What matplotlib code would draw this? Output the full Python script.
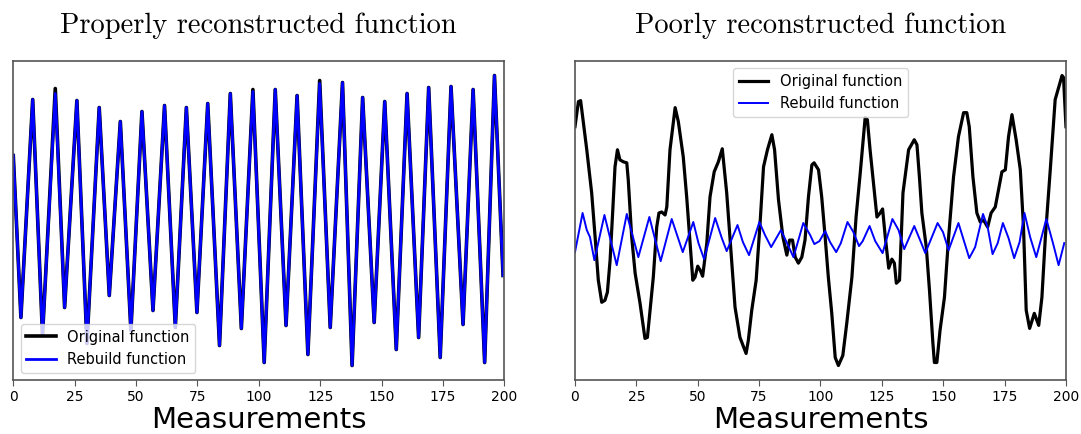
import matplotlib.pyplot as plt

# left panel: turning points of the signal (original and rebuilt almost identical)
good_x = [0, 3.1, 7.9, 11.9, 17.1, 20.9, 25.9, 30.0, 35.0, 39.1, 43.6, 47.9, 52.4, 56.9,
          61.6, 66.0, 70.5, 74.8, 79.2, 84.0, 88.4, 92.9, 97.6, 102.2, 106.7, 111.1,
          115.6, 120.0, 124.8, 129.1, 134.1, 138.0, 142.3, 147.0, 151.3, 156.0, 160.4,
          165.1, 169.2, 173.9, 178.3, 183.2, 187.3, 192.0, 196.0, 199.5]
good_orig = [225, 63, 281, 45, 292, 73, 280, 37, 273, 85, 259, 50, 269, 70,
             275, 53, 273, 68, 277, 35, 287, 52, 291, 18, 291, 55,
             285, 26, 300, 53, 298, 15, 283, 58, 279, 31, 287,
             43, 293, 23, 294, 56, 291, 18, 305, 105]
good_rebuild = [225, 63, 281, 45, 287, 73, 280, 37, 273, 85, 259, 50, 269, 70,
                275, 53, 273, 68, 277, 35, 287, 52, 289, 18, 291, 55,
                285, 26, 297, 53, 298, 15, 283, 58, 279, 31, 287,
                43, 293, 23, 294, 56, 291, 18, 305, 105]

# right panel: original function
bad_x = [0, 1.4, 2.3, 4.8, 6.8, 8.2, 9.5, 10.9, 12.2, 13.2, 14.3, 15.4, 16.3, 17.3, 18.3,
         19.7, 21.1, 21.7, 23.1, 24.5, 26.5, 28.5, 29.5, 30.6, 31.9, 33.3, 34.2, 35.3,
         36.7, 37.4, 38.7, 40.8, 42.1, 44.1, 45.5, 46.9, 48.0, 48.9, 50.0, 51.0, 52.0,
         53.7, 55.0, 56.7, 58.4, 60.0, 61.8, 63.9, 65.2, 67.2, 69.7, 70.6, 72.0, 73.8,
         75.4, 76.8, 78.4, 80.2, 81.3, 82.9, 84.7, 86.3, 87.4, 88.6, 89.7, 91.0, 92.4,
         93.7, 95.1, 96.5, 97.4, 99.2, 100.5, 101.9, 103.2, 104.6, 106.0, 107.3, 109.1,
         110.7, 112.8, 114.5, 116.2, 117.5, 118.2, 119.1, 120.2, 121.6, 123.0, 124.3,
         125.3, 126.4, 127.8, 129.1, 130.1, 130.9, 132.2, 133.6, 135.9, 138.2, 139.3,
         140.3, 141.3, 143.1, 144.4, 145.8, 146.4, 147.4, 148.7, 150.5, 152.1, 154.2,
         156.2, 158.3, 159.6, 160.6, 162.1, 163.7, 165.1, 166.4, 168.1, 169.5, 171.2,
         172.5, 173.9, 175.3, 176.6, 178.0, 179.7, 181.4, 182.7, 183.8, 185.2, 187.1,
         188.9, 190.2, 191.6, 193.6, 195.6, 198.4, 199.0, 200.0]
bad_orig = [253, 278, 279, 230, 187, 143, 100, 78, 80, 88, 120, 170, 213, 230, 220,
            218, 217, 200, 143, 107, 77, 42, 43, 70, 103, 153, 167, 168,
            165, 173, 230, 272, 258, 223, 183, 137, 100, 103, 114, 110, 104,
            137, 183, 208, 218, 231, 187, 117, 73, 43, 27, 40, 70, 100,
            157, 213, 230, 245, 230, 180, 143, 125, 140, 140, 123, 117, 123,
            140, 183, 215, 217, 210, 183, 143, 103, 67, 23, 15, 25,
            57, 103, 163, 207, 243, 262, 260, 230, 197, 163, 167,
            171, 143, 112, 121, 117, 97, 100, 187, 230, 240, 235,
            203, 167, 133, 90, 37, 18, 18, 50, 83, 140, 203,
            243, 267, 267, 253, 203, 167, 158, 160, 153, 167, 173,
            190, 208, 210, 243, 265, 240, 210, 153, 70, 52, 67,
            55, 83, 143, 210, 280, 304, 302, 253]

# right panel: rebuilt function
rebuild_x = [0, 3.1, 4.8, 6.1, 7.9, 12.0, 17.0, 21.1, 25.8, 30.3, 34.9, 39.4, 43.9, 48.2,
             50.3, 52.6, 57.1, 59.8, 61.8, 66.2, 68.4, 70.9, 75.1, 77.4, 79.9, 83.9,
             89.0, 93.0, 95.8, 97.5, 99.6, 101.9, 103.9, 106.4, 108.3, 111.0, 113.4,
             115.7, 117.2, 120.0, 122.3, 125.3, 129.3, 131.8, 134.1, 138.2, 140.9,
             142.7, 147.7, 149.9, 152.2, 156.2, 160.6, 163.0, 166.2, 168.1, 170.1,
             172.2, 174.3, 176.6, 178.9, 181.1, 183.1, 185.4, 187.9, 192.0, 194.7,
             197.0, 199.3]
rebuild_y = [128, 167, 150, 143, 120, 165, 115, 166, 123, 163, 119, 161, 128, 158,
             137, 121, 162, 142, 129, 155, 138, 125, 158, 145, 133, 150,
             123, 157, 145, 136, 139, 149, 138, 128, 137, 158, 148,
             134, 139, 154, 139, 127, 161, 150, 131, 154, 138,
             127, 157, 148, 130, 157, 122, 133, 166, 153, 126,
             137, 157, 142, 122, 138, 167, 143, 123, 161, 137,
             115, 137]

spine_col = '#555555'

fig = plt.figure(figsize=(10.81, 4.34), dpi=100)
ax1 = fig.add_axes([0.0123, 0.1244, 0.4542, 0.735])
ax2 = fig.add_axes([0.5319, 0.1244, 0.4542, 0.735])

ax1.plot(good_x, good_orig, color='black', lw=2.6, label='Original function')
ax1.plot(good_x, good_rebuild, color='blue', lw=2.0, label='Rebuild function')
ax1.legend(loc='lower left', fontsize=10.5)

ax2.plot(bad_x, bad_orig, color='black', lw=2.3, label='Original function')
ax2.plot(rebuild_x, rebuild_y, color='blue', lw=1.4, label='Rebuild function')
ax2.legend(loc='upper center', fontsize=10.5)

titles = ['Properly reconstructed function', 'Poorly reconstructed function']
for ax, t in zip([ax1, ax2], titles):
    ax.set_xlim(0, 200)
    ax.set_yticks([])
    ax.set_xticks([0, 25, 50, 75, 100, 125, 150, 175, 200])
    ax.tick_params(axis='x', labelsize=10, color=spine_col, length=4)
    for s in ax.spines.values():
        s.set_color(spine_col)
        s.set_linewidth(1.2)
    ax.set_xlabel('Measurements', fontsize=21, labelpad=1)
    ax.set_title(t, fontsize=20.5, family='cmr10', pad=20)

fig.savefig('out.png', dpi=100)
